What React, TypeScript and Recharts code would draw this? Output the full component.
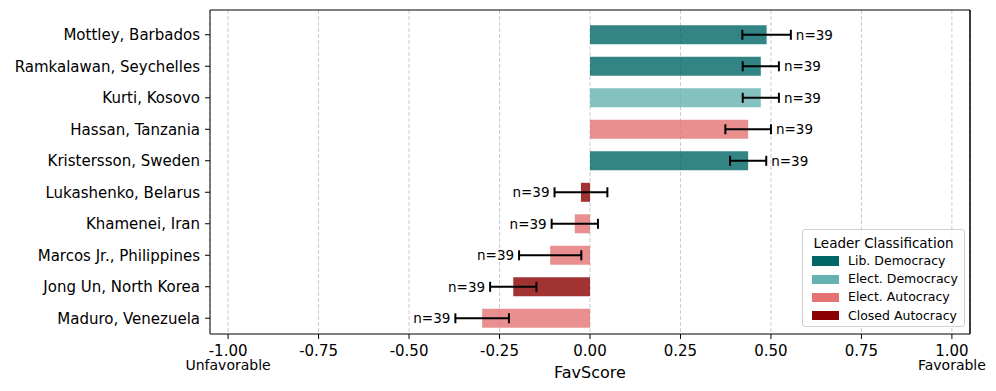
import React from 'react';
import {
  BarChart,
  Bar,
  XAxis,
  YAxis,
  CartesianGrid,
  ErrorBar,
  LabelList,
  Legend,
  Cell,
  ReferenceLine,
} from 'recharts';

const leaders = [
  'Mottley, Barbados',
  'Ramkalawan, Seychelles',
  'Kurti, Kosovo',
  'Hassan, Tanzania',
  'Kristersson, Sweden',
  'Lukashenko, Belarus',
  'Khamenei, Iran',
  'Marcos Jr., Philippines',
  'Jong Un, North Korea',
  'Maduro, Venezuela',
];
const favScores = [0.488, 0.472, 0.472, 0.437, 0.437, -0.025, -0.042, -0.11, -0.212, -0.298];
const favErrors = [0.067, 0.05, 0.05, 0.063, 0.05, 0.073, 0.064, 0.086, 0.064, 0.074];
const sampleSizes = [39, 39, 39, 39, 39, 39, 39, 39, 39, 39];
const classifications = [
  'Lib. Democracy',
  'Lib. Democracy',
  'Elect. Democracy',
  'Elect. Autocracy',
  'Lib. Democracy',
  'Closed Autocracy',
  'Elect. Autocracy',
  'Elect. Autocracy',
  'Closed Autocracy',
  'Elect. Autocracy',
];
const classNames = ['Lib. Democracy', 'Elect. Democracy', 'Elect. Autocracy', 'Closed Autocracy'];
const classColors = ['#006666', '#66b2b2', '#e57373', '#8b0000'];
const xDomain = [-1.05, 1.05];
const xTicks = [-1, -0.75, -0.5, -0.25, 0, 0.25, 0.5, 0.75, 1];
const xTickNotes: Record<string, string> = { '-1': 'Unfavorable', '1': 'Favorable' };

const data = leaders.map((name, i) => ({
  name,
  score: favScores[i],
  err: favErrors[i],
  n: sampleSizes[i],
  cls: classifications[i],
}));

const colorOf = (cls: string) => classColors[classNames.indexOf(cls)];

const FONT = '"DejaVu Sans", sans-serif';

const XTick = (props: any) => {
  const { x, y, payload } = props;
  const v = payload.value as number;
  const note = xTickNotes[String(v)];
  return (
    <g>
      <text x={x} y={y + 15} textAnchor="middle" fontSize={15} fill="#000" fontFamily={FONT}>
        {v.toFixed(2)}
      </text>
      {note ? (
        <text x={x} y={y + 29} textAnchor="middle" fontSize={14} fill="#000" fontFamily={FONT}>
          {note}
        </text>
      ) : null}
    </g>
  );
};

const NLabel = (props: any) => {
  const vb = props.viewBox || {};
  const x = props.x ?? vb.x;
  const y = props.y ?? vb.y;
  const w = props.width ?? vb.width;
  const h = props.height ?? vb.height;
  const idx = props.index;
  const d = data[idx];
  if (!d) return null;
  const left = Math.min(x, x + w);
  const right = Math.max(x, x + w);
  const sign = d.score >= 0 ? 1 : -1;
  const zeroX = sign > 0 ? left : right;
  const ppu = (right - left) / Math.abs(d.score);
  const errEnd = zeroX + (d.score + sign * d.err) * ppu;
  return (
    <text
      x={errEnd + sign * 5}
      y={y + h / 2}
      textAnchor={sign > 0 ? 'start' : 'end'}
      dominantBaseline="central"
      fontSize={13.5}
      fill="#000"
      fontFamily={FONT}
    >
      {`n=${d.n}`}
    </text>
  );
};

const LegendBox = () => (
  <div
    style={{
      boxSizing: 'border-box',
      width: 163,
      height: 98,
      border: '1px solid #d0d0d0',
      borderRadius: 3,
      background: 'rgba(255,255,255,0.8)',
      paddingTop: 4,
      fontFamily: FONT,
      color: '#000',
    }}
  >
    <div style={{ textAlign: 'center', fontSize: 13.5, lineHeight: '18px' }}>Leader Classification</div>
    {classNames.map((c, i) => (
      <div key={c} style={{ display: 'flex', alignItems: 'center', height: 18.2, paddingLeft: 9 }}>
        <span style={{ display: 'inline-block', width: 27, height: 9.5, background: classColors[i], marginRight: 9 }} />
        <span style={{ fontSize: 12.5, lineHeight: '18px', whiteSpace: 'nowrap' }}>{c}</span>
      </div>
    ))}
  </div>
);

export default function App() {
  return (
    <div style={{ position: 'absolute', left: 0, top: 0, width: 996, height: 391, background: '#fff' }}>
      <BarChart
        width={996}
        height={391}
        data={data}
        layout="vertical"
        margin={{ top: 9, right: 25, bottom: 0, left: 0 }}
        barCategoryGap="20%"
        style={{ fontFamily: FONT }}
      >
        <CartesianGrid horizontal={false} strokeDasharray="4 2" stroke="#cccccc" />
        <XAxis
          type="number"
          dataKey="score"
          domain={xDomain}
          ticks={xTicks}
          allowDataOverflow
          height={57}
          tickSize={5}
          tickLine={{ stroke: '#000' }}
          axisLine={{ stroke: '#000' }}
          tick={<XTick />}
          label={{ value: 'FavScore', position: 'insideBottom', offset: 13, fontSize: 16, fill: '#000', fontFamily: FONT }}
        />
        <XAxis
          xAxisId="top"
          orientation="top"
          type="number"
          domain={[0, 1]}
          height={1}
          tick={false}
          tickLine={false}
          axisLine={{ stroke: '#000' }}
        />
        <YAxis
          type="category"
          dataKey="name"
          width={210}
          padding={{ top: 9, bottom: 0 }}
          tickSize={5}
          tickMargin={5}
          tickLine={{ stroke: '#000' }}
          axisLine={{ stroke: '#000' }}
          tick={{ fill: '#000', fontSize: 15, fontFamily: FONT }}
          interval={0}
        />
        <YAxis
          yAxisId="right"
          orientation="right"
          type="number"
          domain={[0, 1]}
          width={1}
          tick={false}
          tickLine={false}
          axisLine={{ stroke: '#000' }}
        />
        <ReferenceLine x={xDomain[1]} stroke="#000" ifOverflow="visible" />
        <Legend
          layout="vertical"
          align="center"
          verticalAlign="middle"
          wrapperStyle={{ left: 802, top: 229, width: 163 }}
          content={() => <LegendBox />}
        />
        <Bar dataKey="score" isAnimationActive={false} fillOpacity={0.8}>
          {data.map((d) => (
            <Cell key={d.name} fill={colorOf(d.cls)} />
          ))}
          <ErrorBar dataKey="err" direction="x" width={5} stroke="#000" strokeWidth={2} />
          <LabelList dataKey="n" content={<NLabel />} />
        </Bar>
      </BarChart>
    </div>
  );
}
